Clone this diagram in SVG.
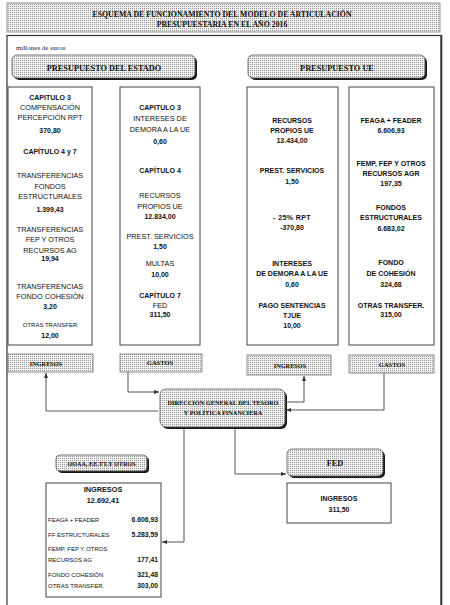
<svg xmlns="http://www.w3.org/2000/svg" width="450" height="605" viewBox="0 0 450 605">
<defs>
<pattern id="dots" width="2" height="2" patternUnits="userSpaceOnUse"><rect width="2" height="2" fill="#efefef"/><rect width="1" height="1" fill="#9a9a9a"/></pattern>
<marker id="arr" markerWidth="5" markerHeight="4" refX="5" refY="2" orient="auto" markerUnits="userSpaceOnUse"><path d="M0,0 L5,2 L0,4 z" fill="#333"/></marker>
</defs>
<style>
.serif{font-family:"Liberation Serif","Times New Roman",serif;font-weight:bold;fill:#111;text-anchor:middle}
.s{font-family:"Liberation Sans",Arial,sans-serif;fill:#111;text-anchor:middle}
.r{font-size:7.3px}
.b{font-size:7px;font-weight:bold}
.sm{font-size:6px}
.col{fill:#fff;stroke:#444;stroke-width:1}
.pat{fill:url(#dots);stroke:#777;stroke-width:0.8}
.rnd{fill:url(#dots);stroke:#555;stroke-width:0.8}
.sh{fill:#1a1a1a}
.con{fill:none;stroke:#555;stroke-width:1}
.row{font-family:"Liberation Sans",Arial,sans-serif;fill:#111;font-size:6px}
.val{font-family:"Liberation Sans",Arial,sans-serif;fill:#111;font-size:6.8px;font-weight:bold;text-anchor:end}
</style>
<rect width="450" height="605" fill="#fff"/>
<g id="title">
<rect x="7" y="3" width="433" height="29" class="pat" stroke="#444"/>
<text x="222" y="17" class="serif" font-size="7.8">ESQUEMA DE FUNCIONAMIENTO DEL MODELO DE ARTICULACIÓN</text>
<text x="222" y="27" class="serif" font-size="7.8">PRESUPUESTARIA EN EL AÑO 2016</text>
</g>
<g id="frame">
<rect x="7" y="35.5" width="434" height="580" fill="none" stroke="#333" stroke-width="1.2"/>
<line x1="441.5" y1="35" x2="441.5" y2="605" stroke="#333" stroke-width="1.6"/>
<text x="16" y="50" font-family="Liberation Serif,serif" font-size="7" fill="#222">millones  de euros</text>
</g>
<g id="presupuesto-estado">
<rect x="14" y="57" width="183" height="23" rx="5" class="sh"/>
<rect x="12" y="55" width="183" height="23" rx="5" class="rnd"/>
<text x="104" y="70.5" class="serif" font-size="8.3">PRESUPUESTO  DEL ESTADO</text>
</g>
<g id="presupuesto-ue">
<rect x="250" y="57" width="177" height="23" rx="5" class="sh"/>
<rect x="248" y="55" width="177" height="23" rx="5" class="rnd"/>
<text x="337" y="70.5" class="serif" font-size="8.3">PRESUPUESTO  UE</text>
</g>
<g id="col-estado-ingresos">
<rect x="8" y="87" width="84" height="258" class="col"/>
<text class="s b" x="50" y="99.5">CAPITULO 3</text>
<text class="s r" x="50" y="110">COMPENSACIÓN</text>
<text class="s r" x="50" y="120">PERCEPCIÓN RPT</text>
<text class="s b" x="50" y="133">370,80</text>
<text class="s b" x="50" y="154">CAPÍTULO 4 y 7</text>
<text class="s r" x="50" y="177.5">TRANSFERENCIAS</text>
<text class="s r" x="50" y="188.5">FONDOS</text>
<text class="s r" x="50" y="198.5">ESTRUCTURALES</text>
<text class="s b" x="50" y="211.5">1.399,43</text>
<text class="s r" x="50" y="231.5">TRANSFERENCIAS</text>
<text class="s r" x="50" y="242">FEP Y OTROS</text>
<text class="s r" x="50" y="252.5">RECURSOS AG</text>
<text class="s b" x="50" y="260.5">19,94</text>
<text class="s r" x="50" y="288.5">TRANSFERENCIAS</text>
<text class="s r" x="50" y="298.5">FONDO COHESIÓN</text>
<text class="s b" x="50" y="309">3,20</text>
<text class="s sm" x="50" y="327">OTRAS TRANSFER</text>
<text class="s b" x="50" y="337.5">12,00</text>
</g>
<g id="col-estado-gastos">
<rect x="120" y="87" width="80" height="258" class="col"/>
<text class="s b" x="160" y="109.5">CAPITULO 3</text>
<text class="s r" x="160" y="120.5">INTERESES DE</text>
<text class="s r" x="160" y="131.5">DEMORA A LA UE</text>
<text class="s b" x="160" y="143.5">0,60</text>
<text class="s b" x="160" y="173">CAPÍTULO 4</text>
<text class="s r" x="160" y="198">RECURSOS</text>
<text class="s r" x="160" y="208.5">PROPIOS UE</text>
<text class="s b" x="160" y="219">12.834,00</text>
<text class="s r" x="160" y="239">PREST. SERVICIOS</text>
<text class="s b" x="160" y="249">1,50</text>
<text class="s r" x="160" y="266">MULTAS</text>
<text class="s b" x="160" y="277">10,00</text>
<text class="s b" x="160" y="297.5">CAPÍTULO 7</text>
<text class="s r" x="160" y="307.5">FED</text>
<text class="s b" x="160" y="316.5">311,50</text>
</g>
<g id="col-ue-ingresos">
<rect x="247" y="87" width="91" height="258" class="col"/>
<text class="s b" x="292" y="123">RECURSOS</text>
<text class="s b" x="292" y="133">PROPIOS UE</text>
<text class="s b" x="292" y="143">13.434,00</text>
<text class="s b" x="292" y="173">PREST. SERVICIOS</text>
<text class="s b" x="292" y="184">1,50</text>
<text class="s b" x="292" y="220" letter-spacing="0.4">- 25% RPT</text>
<text class="s b" x="292" y="230">-370,80</text>
<text class="s b" x="292" y="266">INTERESES</text>
<text class="s b" x="292" y="276">DE DEMORA A LA UE</text>
<text class="s b" x="292" y="287">0,60</text>
<text class="s b" x="292" y="308">PAGO SENTENCIAS</text>
<text class="s b" x="292" y="318">TJUE</text>
<text class="s b" x="292" y="327.5">10,00</text>
</g>
<g id="col-ue-gastos">
<rect x="349" y="87" width="85" height="258" class="col"/>
<text class="s b" x="391" y="122.5">FEAGA + FEADER</text>
<text class="s b" x="391" y="132.5">6.606,93</text>
<text class="s b" x="391" y="165.5">FEMP, FEP Y OTROS</text>
<text class="s b" x="391" y="175.5">RECURSOS AGR</text>
<text class="s b" x="391" y="185.5">197,35</text>
<text class="s b" x="391" y="209.5">FONDOS</text>
<text class="s b" x="391" y="219.5">ESTRUCTURALES</text>
<text class="s b" x="391" y="230.5">6.683,02</text>
<text class="s b" x="391" y="264.5">FONDO</text>
<text class="s b" x="391" y="275.5">DE COHESIÓN</text>
<text class="s b" x="391" y="286.5">324,68</text>
<text class="s b" x="391" y="307.5">OTRAS TRANSFER.</text>
<text class="s b" x="391" y="316.5">315,00</text>
</g>
<g id="estado-ingresos">
<rect x="8" y="354" width="85" height="18" class="pat"/>
<text x="46" y="365.5" class="serif" font-size="6.3">INGRESOS</text>
</g>
<g id="estado-gastos">
<rect x="120" y="354" width="82" height="18" class="pat"/>
<text x="160" y="365" class="serif" font-size="6.5">GASTOS</text>
</g>
<g id="ue-ingresos">
<rect x="247" y="355" width="84" height="20" class="pat"/>
<text x="290" y="367.5" class="serif" font-size="6.3">INGRESOS</text>
</g>
<g id="ue-gastos">
<rect x="349" y="355" width="85" height="18" class="pat"/>
<text x="392" y="366.5" class="serif" font-size="6.5">GASTOS</text>
</g>
<g id="dgtpf">
<rect x="162" y="391" width="125" height="38" rx="6" class="sh"/>
<rect x="160" y="389" width="125" height="38" rx="6" class="rnd"/>
<text x="223" y="405" class="serif" font-size="6.3">DIRECCIÓN GENERAL  DEL TESORO</text>
<text x="223" y="414.5" class="serif" font-size="6.3">Y POLÍTICA FINANCIERA</text>
</g>
<g id="ooaa">
<rect x="58" y="457" width="91" height="16" rx="4" class="sh"/>
<rect x="56" y="455" width="91" height="16" rx="4" class="rnd"/>
<text x="101.5" y="465.5" class="serif" font-size="6.2">OOAA, EE.TT.Y OTROS</text>
</g>
<g id="ooaa-ingresos">
<rect x="46" y="483" width="115" height="114" class="col"/>
<text class="s" x="103" y="492" font-size="7.3" font-weight="bold">INGRESOS</text>
<text class="s" x="103" y="503" font-size="7.3" font-weight="bold">12.692,41</text>
<text class="row" x="48" y="522">FEAGA + FEADER</text>
<text class="val" x="158" y="522">6.606,93</text>
<text class="row" x="48" y="537">FF ESTRUCTURALES</text>
<text class="val" x="158" y="537">5.283,59</text>
<text class="row" x="48" y="551">FEMP, FEP Y OTROS</text>
<text class="row" x="48" y="562">RECURSOS AG</text>
<text class="val" x="158" y="562">177,41</text>
<text class="row" x="48" y="577">FONDO COHESIÓN</text>
<text class="val" x="158" y="577">321,48</text>
<text class="row" x="48" y="588">OTRAS TRANSFER.</text>
<text class="val" x="158" y="588">303,00</text>
</g>
<g id="fed">
<rect x="289" y="451" width="96" height="27" rx="5" class="sh"/>
<rect x="287" y="449" width="96" height="27" rx="5" class="rnd"/>
<text x="335" y="466" class="serif" font-size="8.3">FED</text>
</g>
<g id="fed-ingresos">
<rect x="287" y="483" width="104" height="40" class="col"/>
<text class="s" x="339" y="500.5" font-size="7" font-weight="bold">INGRESOS</text>
<text class="s" x="339" y="511.5" font-size="7" font-weight="bold">311,50</text>
</g>
<g id="connectors">
<polyline class="con" points="158,411 46,411 46,373" marker-end="url(#arr)"/>
<polyline class="con" points="128,372 128,392 159,392" marker-end="url(#arr)"/>
<polyline class="con" points="285,402 304,402 304,376" marker-end="url(#arr)"/>
<polyline class="con" points="384,373 384,410 286,410" marker-end="url(#arr)"/>
<polyline class="con" points="184,429 184,542 162,542" marker-end="url(#arr)"/>
<polyline class="con" points="235,429 235,474 286,474" marker-end="url(#arr)"/>
</g>
</svg>
